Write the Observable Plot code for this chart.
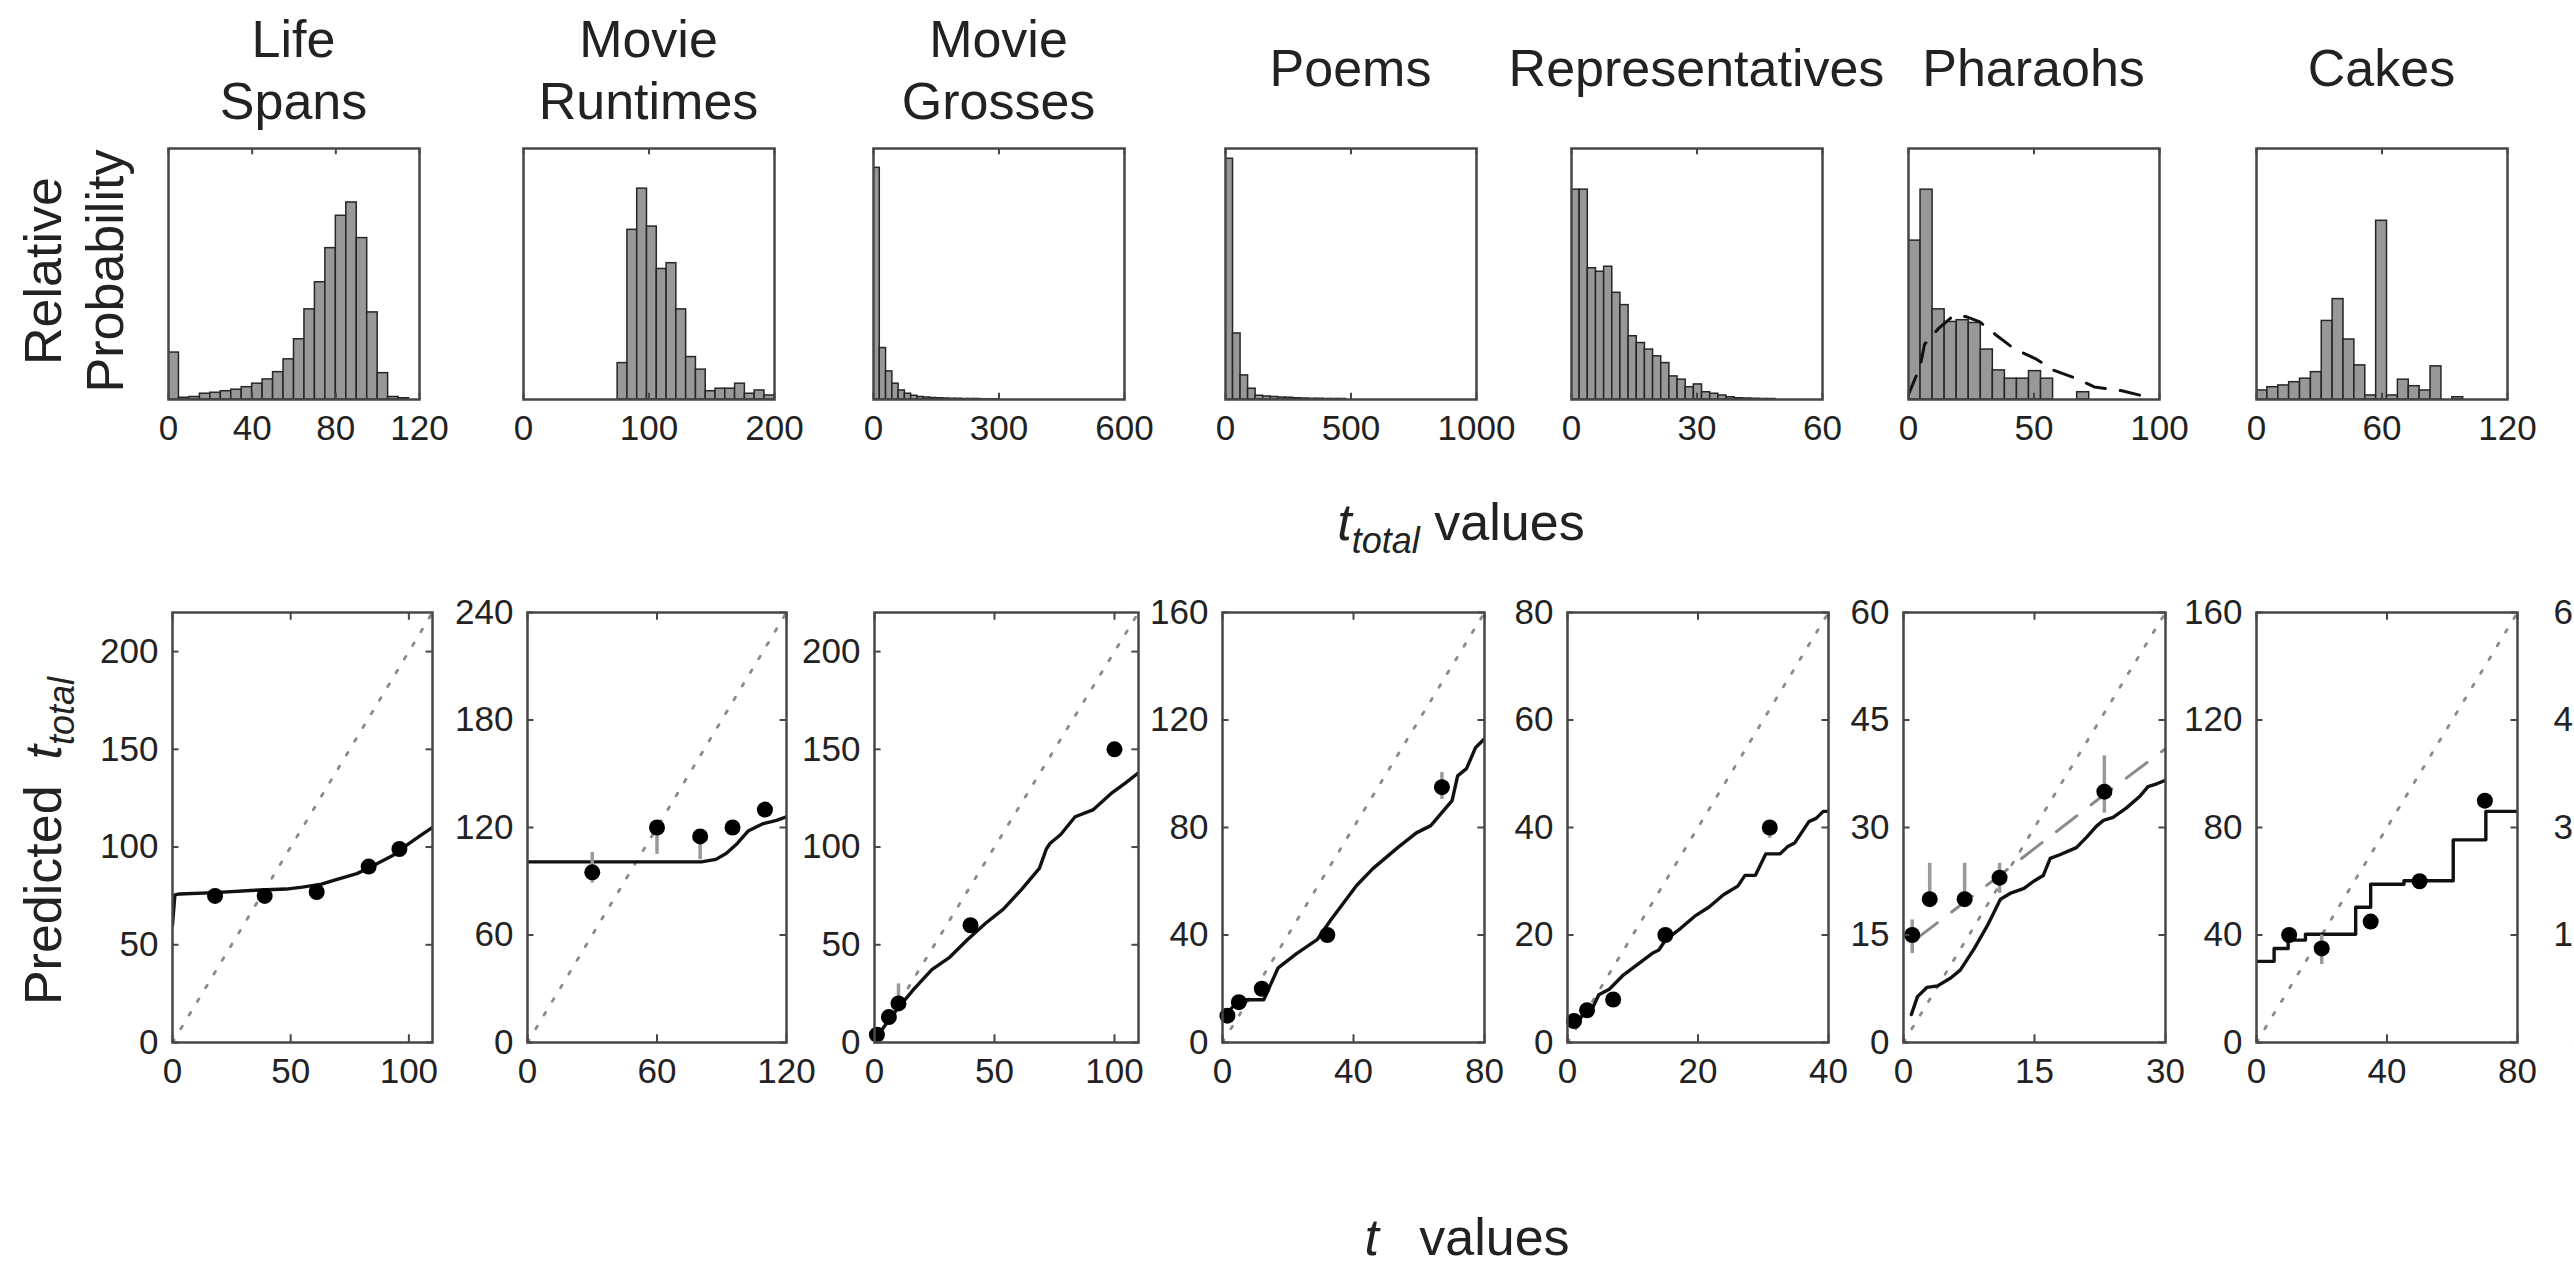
<!DOCTYPE html>
<html>
<head>
<meta charset="utf-8">
<script src="https://cdn.jsdelivr.net/npm/d3@7"></script>
<script src="https://cdn.jsdelivr.net/npm/@observablehq/plot@0.6"></script>
<style>
html,body{margin:0;padding:0;background:#fff;}
body{width:2574px;height:1272px;overflow:hidden;}
#fig{position:relative;width:2574px;height:1272px;overflow:hidden;font-family:"Liberation Sans",Arial,Helvetica,sans-serif;color:#222;background:#fff;}
.lbl{position:absolute;white-space:nowrap;font-size:52px;line-height:62px;color:#222;}
.ctr{text-align:center;transform:translateX(-50%);}
.rot{text-align:center;transform:translate(-50%,-50%) rotate(-90deg);}
.sub{font-style:italic;font-size:36px;position:relative;top:13px;}
</style>
</head>
<body>
<div id="fig"></div>
<script>
// ================= DATA =================
// --- top row: prior distributions of t_total ---
const topTitles = [["Life","Spans"],["Movie","Runtimes"],["Movie","Grosses"],["Poems"],["Representatives"],["Pharaohs"],["Cakes"]];
const topXMax   = [120, 200, 600, 1000, 60, 100, 120];
const topXTicks = [[0,40,80,120],[0,100,200],[0,300,600],[0,500,1000],[0,30,60],[0,50,100],[0,60,120]];
const binStart  = [0, 75, 0, 0, 0, 0, 0];
const binWidth  = [5, 7.8, 15, 30, 1.95, 4.8, 5.2];

const lifeSpanProb = [0.187,0.007,0.010,0.023,0.027,0.033,0.039,0.049,0.063,0.080,0.109,0.160,0.240,0.359,0.467,0.603,0.732,0.785,0.643,0.347,0.105,0.010,0.005];
const runtimeProb  = [0.145,0.676,0.840,0.689,0.520,0.543,0.359,0.169,0.119,0.033,0.043,0.043,0.063,0.023,0.036,0.016];
const grossProb    = [0.923,0.205,0.112,0.063,0.036,0.023,0.015,0.010,0.008,0.006,0.005,0.004,0.003,0.003,0.002,0.002,0.002,0.001,0.001,0.001];
const poemProb     = [0.959,0.263,0.096,0.043,0.015,0.012,0.010,0.008,0.007,0.005,0.004,0.003,0.003,0.002,0.002,0.002];
const repProb      = [0.836,0.836,0.523,0.509,0.529,0.425,0.376,0.252,0.225,0.199,0.172,0.145,0.092,0.079,0.049,0.060,0.029,0.023,0.016,0.009,0.005,0.004,0.003,0.002,0.002];
const pharaohProb  = [0.633,0.836,0.359,0.309,0.316,0.305,0.199,0.116,0.083,0.083,0.113,0.083,0,0,0.029];
const cakeProb     = [0.036,0.049,0.056,0.069,0.083,0.109,0.313,0.400,0.239,0.136,0.016,0.712,0.016,0.079,0.053,0.036,0.132,0,0.009];

const pharaohFitT = [0,4.6,6.4,12,18,23,28.4,35,42,50.5,58,67,74,85,95];
const pharaohFitP = [0.02,0.13,0.22,0.283,0.335,0.33,0.309,0.256,0.203,0.163,0.116,0.083,0.05,0.035,0.01];

// --- bottom row: predictions ---
const botXMax   = [110, 120, 110, 80, 40, 30, 80];
const botYMax   = [220, 240, 220, 160, 80, 60, 160];
const botXTicks = [[0,50,100],[0,60,120],[0,50,100],[0,40,80],[0,20,40],[0,15,30],[0,40,80]];
const botYTicks = [[0,50,100,150,200],[0,60,120,180,240],[0,50,100,150,200],[0,40,80,120,160],[0,20,40,60,80],[0,15,30,45,60],[0,40,80,120,160]];

// model (Bayesian) predictions
const lifeModelT    = [0,1,3,18,33,48,55,63,70,78,85,93,100,105,110];
const lifeModelY    = [60,75.5,76,76.7,77.8,78.5,79.5,81,83.6,86.4,90.5,95.5,101.8,106,110];
const runtimeModelT = [0,80.6,87.3,92.2,97.2,102.2,108.8,115.4,120];
const runtimeModelY = [100.8,100.8,102.2,105.6,111.1,118,122,124,126];
const grossModelT   = [0,3,9,16.4,23.9,31.3,38.8,46.3,53.7,61.2,68.7,71.6,73.1,77.6,83.6,91,98.5,104.5,110];
const grossModelY   = [1.8,6.4,16.4,27.3,37.3,43.6,52.7,61,68.2,78.2,89.1,99,101.8,106.4,115.5,119,127.3,132.7,138];
const poemModelT    = [0,4.9,12.6,17,22.5,29,33,41,46,53.5,59.2,63.6,70.1,71.8,74.5,77.3,80];
const poemModelY    = [8.6,15.9,15.9,27.8,33,38.4,45.5,58.5,64.8,72.5,78,80.7,90,99.2,101.9,109.8,113];
const repModelT     = [0,1.5,2.6,3.9,4.8,6.4,8.6,10.8,13,14,15.1,17.3,19.5,21.7,23.9,26.1,27.2,28.8,30.4,32.6,33.7,34.8,35.9,37,38.1,39.2,40];
const repModelY     = [3.3,3.6,5.6,6.6,8.9,9.9,12.6,14.6,16.6,17.2,19.2,21.2,23.5,25.2,27.5,29.1,31.1,31.1,35.1,35.1,36.4,37.1,39.1,41.1,41.7,43,43];
const pharaohModelT = [0.9,1.6,2.7,3.9,5.4,6.5,8.1,9.6,11.1,12.2,13.8,14.9,16,16.8,17.9,19.8,21,22.1,22.9,24,25.5,27.1,28,29,30];
const pharaohModelY = [3.9,6.4,7.7,7.9,9,10.1,13.1,16.3,20,20.8,21.5,22.5,23.3,25.7,26.2,27.2,28.7,30.2,31,31.4,32.7,34.4,35.7,36.1,36.6];
const cakeModelT    = [0,5.4,9.7,15,30.4,35,45.2,60.3,70.3,80];
const cakeModelY    = [30.2,35,38.1,40.3,50.3,58.9,60.2,75.4,86,86];
// alternative prior prediction (Pharaohs, dashed)
const pharaohAltT = [1.5,11,23,30];
const pharaohAltY = [14.5,23.3,34.6,41];

// human median judgments with error bars
const lifeT = [18,39,61,83,96],      lifeY = [75,75,77,90,99],       lifeLo = [74,74,76,89,98],      lifeHi = [76,76,78,91,100];
const runT  = [30,60,80,95,110],     runY  = [95,120,115,120,130],   runLo  = [89,105,102,120,126],  runHi  = [106,120,115,120,130];
const grT   = [1,6,10,40,100],       grY   = [4,13,20,60,150],       grLo   = [4,13,20,60,150],      grHi   = [4,13,30,60,150];
const poT   = [1.5,5,12,32,67],      poY   = [10,15,20,40,95],       poLo   = [10,15,20,40,90.5],    poHi   = [10,15,20,40,100.5];
const repT  = [1,3,7,15,31],         repY  = [4,6,8,20,40],          repLo  = [4,6,8,20,38],         repHi  = [4,6,8,20,40];
const phT   = [1,3,7,11,23],         phY   = [15,20,20,23,35],       phLo   = [12.4,20,20,20.8,32],  phHi   = [17.1,25,25,25,40];
const caT   = [10,20,35,50,70],      caY   = [40,35,45,60,90],       caLo   = [40,29,45,60,90],      caHi   = [40,40,45,60,90];

// cut-off panel at the right edge (only its y tick labels are visible)
const extraYTicks = [0,15,30,45,60];

// ================= LAYOUT / STYLE =================
const FAMILY = '"Liberation Sans", Arial, Helvetica, sans-serif';
const TEXT = "#222", FRAME = "#474747";
const fig = document.getElementById("fig");
const plotStyle = {fontFamily: FAMILY, fontSize: "35px", color: TEXT, background: "transparent", overflow: "visible"};

function place(node, left, top) {
  node.style.position = "absolute";
  node.style.left = left + "px";
  node.style.top = top + "px";
  node.style.maxWidth = "none";
  fig.appendChild(node);
}
function addLabel(html, cls, left, top) {
  const d = document.createElement("div");
  d.className = "lbl " + cls;
  d.innerHTML = html;
  d.style.left = left + "px";
  d.style.top = top + "px";
  fig.appendChild(d);
}
const fmt = d => String(d);
const zip = (a, b, ka, kb) => a.map((v, k) => ({[ka]: v, [kb]: b[k]}));

// ----- top row -----
const TOP = {x: [168,523,873,1225,1571,1908,2256], y: 148, w: 251, h: 251, mL: 30, mR: 30, mT: 12, mB: 70};
const topProbs = [lifeSpanProb, runtimeProb, grossProb, poemProb, repProb, pharaohProb, cakeProb];

topProbs.forEach((probs, i) => {
  const bins = probs.map((p, k) => ({x1: binStart[i] + k * binWidth[i], x2: binStart[i] + (k + 1) * binWidth[i], p}));
  const ticks = topXTicks[i];
  const marks = [
    Plot.rectY(bins, {x1: "x1", x2: "x2", y: "p", fill: "#989898", stroke: "#262626", strokeWidth: 1.5, clip: true})
  ];
  if (i === 5) {
    marks.push(Plot.line(zip(pharaohFitT, pharaohFitP, "t", "p"), {x: "t", y: "p", stroke: "#111", strokeWidth: 3, strokeDasharray: "20,15", clip: true}));
  }
  marks.push(
    Plot.ruleX(ticks, {x: d => d, y1: 0, y2: 0.025, stroke: FRAME, strokeWidth: 2}),
    Plot.ruleX(ticks, {x: d => d, y1: 0.975, y2: 1, stroke: FRAME, strokeWidth: 2}),
    Plot.frame({stroke: FRAME, strokeWidth: 2.5}),
    Plot.axisX({ticks, tickSize: 0, tickPadding: 16, tickFormat: fmt, label: null})
  );
  const svg = Plot.plot({
    width: TOP.w + TOP.mL + TOP.mR, height: TOP.h + TOP.mT + TOP.mB,
    marginLeft: TOP.mL, marginRight: TOP.mR, marginTop: TOP.mT, marginBottom: TOP.mB,
    x: {domain: [0, topXMax[i]], label: null},
    y: {domain: [0, 1], axis: null, label: null},
    style: plotStyle,
    marks
  });
  place(svg, TOP.x[i] - TOP.mL, TOP.y - TOP.mT);

  // title
  const t = topTitles[i];
  const cx = TOP.x[i] + TOP.w / 2;
  addLabel(t.join("<br>"), "ctr", cx, t.length === 2 ? 8 : 37);
});

// ----- bottom row -----
const BOT = {x: [172,527,874,1222,1567,1903,2256], w: [260,259,264,262,261,262,261], y: 612, h: 430, mL: 100, mR: 20, mT: 12, mB: 70};
const models = [
  [lifeModelT, lifeModelY], [runtimeModelT, runtimeModelY], [grossModelT, grossModelY], [poemModelT, poemModelY],
  [repModelT, repModelY], [pharaohModelT, pharaohModelY], [cakeModelT, cakeModelY]
];
const judgments = [
  [lifeT, lifeY, lifeLo, lifeHi], [runT, runY, runLo, runHi], [grT, grY, grLo, grHi], [poT, poY, poLo, poHi],
  [repT, repY, repLo, repHi], [phT, phY, phLo, phHi], [caT, caY, caLo, caHi]
];

models.forEach(([mt, my], i) => {
  const xmax = botXMax[i], ymax = botYMax[i];
  const xt = botXTicks[i], yt = botYTicks[i];
  const model = zip(mt, my, "t", "y");
  const [jt, jy, jl, jh] = judgments[i];
  const obs = jt.map((t, k) => ({t, y: jy[k], lo: jl[k], hi: jh[k]}));
  const diag = [{t: 0}, {t: xmax}];
  const marks = [
    Plot.line(diag, {x: "t", y: d => 2 * d.t, stroke: "#8a8a8a", strokeWidth: 2.8, strokeDasharray: "3,13", clip: true})
  ];
  if (i === 5) {
    marks.push(Plot.line(zip(pharaohAltT, pharaohAltY, "t", "y"), {x: "t", y: "y", stroke: "#8a8a8a", strokeWidth: 3, strokeDasharray: "26,18", clip: true}));
  }
  marks.push(
    Plot.line(model, {x: "t", y: "y", stroke: "#111", strokeWidth: 3.4, curve: i === 6 ? "step-after" : "linear", clip: true}),
    Plot.ruleX(obs, {x: "t", y1: "lo", y2: "hi", stroke: "#9a9a9a", strokeWidth: 3.5}),
    Plot.dot(obs, {x: "t", y: "y", r: 8, fill: "#000"}),
    Plot.ruleX(xt, {x: d => d, y1: 0, y2: ymax * 0.018, stroke: FRAME, strokeWidth: 2}),
    Plot.ruleX(xt, {x: d => d, y1: ymax * 0.982, y2: ymax, stroke: FRAME, strokeWidth: 2}),
    Plot.ruleY(yt, {y: d => d, x1: 0, x2: xmax * 0.025, stroke: FRAME, strokeWidth: 2}),
    Plot.ruleY(yt, {y: d => d, x1: xmax * 0.975, x2: xmax, stroke: FRAME, strokeWidth: 2}),
    Plot.frame({stroke: FRAME, strokeWidth: 2.5}),
    Plot.axisX({ticks: xt, tickSize: 0, tickPadding: 16, tickFormat: fmt, label: null}),
    Plot.axisY({ticks: yt, tickSize: 0, tickPadding: 14, tickFormat: fmt, label: null})
  );
  const svg = Plot.plot({
    width: BOT.w[i] + BOT.mL + BOT.mR, height: BOT.h + BOT.mT + BOT.mB,
    marginLeft: BOT.mL, marginRight: BOT.mR, marginTop: BOT.mT, marginBottom: BOT.mB,
    x: {domain: [0, xmax], label: null},
    y: {domain: [0, ymax], label: null},
    style: plotStyle,
    marks
  });
  place(svg, BOT.x[i] - BOT.mL, BOT.y - BOT.mT);
});

// partially visible next panel (clipped by the page edge)
{
  const svg = Plot.plot({
    width: 200, height: BOT.h + BOT.mT + BOT.mB,
    marginLeft: BOT.mL, marginRight: 20, marginTop: BOT.mT, marginBottom: BOT.mB,
    x: {domain: [0, 1], axis: null, label: null},
    y: {domain: [0, 60], label: null},
    style: plotStyle,
    marks: [Plot.axisY({ticks: extraYTicks, tickSize: 0, tickPadding: 14, tickFormat: fmt, label: null})]
  });
  place(svg, 2606 - BOT.mL, BOT.y - BOT.mT);
}

// ----- axis titles -----
addLabel("Relative<br>Probability", "rot", 74, 271);
addLabel('Predicted&ensp;<i>t</i><span class="sub">total</span>', "rot", 46, 841);
addLabel('<i>t</i><span class="sub">total</span> values', "ctr", 1461, 491);
addLabel('<i>t</i>&ensp; values', "ctr", 1467, 1206);
</script>
</body>
</html>
